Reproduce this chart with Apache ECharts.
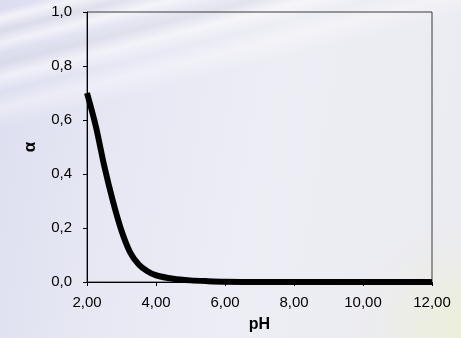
<!DOCTYPE html>
<html>
<head>
<meta charset="utf-8">
<script src="https://cdn.jsdelivr.net/npm/echarts@6/dist/echarts.min.js"></script>
<style>
  html, body { margin: 0; padding: 0; }
  body {
    width: 461px; height: 338px; overflow: hidden;
    background:
      radial-gradient(ellipse 120px 110px at 470px 330px, rgba(236,240,214,0.9), rgba(236,240,214,0) 100%),
      linear-gradient(166deg, rgba(255,255,255,0) 0px, rgba(255,255,255,0) 10px, rgba(255,255,255,0.6) 18px, rgba(210,212,222,0.35) 30px, rgba(255,255,255,0.55) 42px, rgba(255,255,255,0) 52px, rgba(205,207,220,0.3) 62px, rgba(255,255,255,0.5) 75px, rgba(255,255,255,0) 90px, rgba(255,255,255,0.35) 105px, rgba(255,255,255,0) 125px),
      linear-gradient(100deg, #dcdef0 0%, #e6e7f3 25%, #ededf5 55%, #ebebf2 100%);
    background-size: 100% 100%, 100% 140px, 100% 100%;
    background-repeat: no-repeat;
  }
  #chart { width: 461px; height: 338px; }
</style>
</head>
<body>
<div id="chart"></div>
<script>
// pH values and the fraction alpha
const phValues = [2.0, 2.25, 2.5, 2.75, 3.0, 3.25, 3.5, 3.75, 4.0, 4.5, 5.0, 5.5, 6.0, 7.0, 8.0, 9.0, 10.0, 11.0, 12.0];
const alphaValues = [0.70, 0.58, 0.43, 0.30, 0.19, 0.11, 0.065, 0.04, 0.025, 0.012, 0.006, 0.003, 0.001, 0, 0, 0, 0, 0, 0];
const xTicks = [2, 4, 6, 8, 10, 12];
const yTicks = [0, 0.2, 0.4, 0.6, 0.8, 1.0];

const chart = echarts.init(document.getElementById('chart'), null, { renderer: 'canvas' });
const font = 'Liberation Sans, Arial, sans-serif';

chart.setOption({
  backgroundColor: 'transparent',
  animation: false,
  grid: {
    left: 87, right: 29, top: 12, bottom: 54,
    show: true, borderColor: '#3a3a3a', borderWidth: 1, backgroundColor: 'transparent'
  },
  xAxis: {
    type: 'value',
    min: xTicks[0], max: xTicks[xTicks.length - 1], interval: 2,
    name: 'pH', nameLocation: 'middle', nameGap: 35,
    nameTextStyle: { fontFamily: font, fontWeight: 'bold', fontSize: 16, color: '#000' },
    axisLine: { show: true, lineStyle: { color: '#000', width: 1 } },
    axisTick: { show: true, inside: false, length: 4, lineStyle: { color: '#000' } },
    axisLabel: {
      margin: 13, fontFamily: font, fontSize: 15, color: '#000',
      formatter: v => v.toFixed(2).replace('.', ',')
    },
    splitLine: { show: false }
  },
  yAxis: {
    type: 'value',
    min: yTicks[0], max: yTicks[yTicks.length - 1], interval: 0.2,
    name: 'α', nameLocation: 'middle', nameGap: 48, nameRotate: 90,
    nameTextStyle: { fontFamily: font, fontWeight: 'bold', fontSize: 17, color: '#000' },
    axisLine: { show: true, lineStyle: { color: '#000', width: 1 } },
    axisTick: { show: true, inside: false, length: 4, lineStyle: { color: '#000' } },
    axisLabel: {
      margin: 15, fontFamily: font, fontSize: 15, color: '#000',
      formatter: v => v.toFixed(1).replace('.', ',')
    },
    splitLine: { show: false }
  },
  series: [{
    type: 'line',
    data: phValues.map((p, i) => [p, alphaValues[i]]),
    smooth: 0.3,
    showSymbol: false,
    clip: false,
    lineStyle: { color: '#000', width: 6, cap: 'butt', join: 'round' }
  }]
});
</script>
</body>
</html>
